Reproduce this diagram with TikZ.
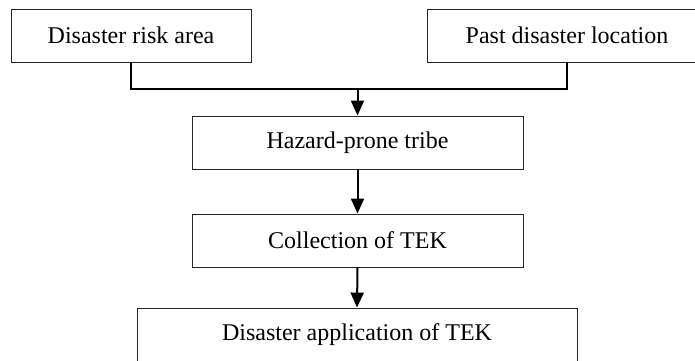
\documentclass[tikz,border=0pt]{standalone}
\usepackage{fontspec}
\setmainfont{Liberation Serif}
\usetikzlibrary{arrows.meta}
\tikzset{
    box/.style={draw=black!85, line width=.9pt, minimum height=53pt, inner sep=0pt,
                font=\fontsize{24}{28}\selectfont},
    link/.style={line width=2pt, line join=miter},
    tip/.style={link, -{Triangle[length=15pt,width=13pt]}}
}
\begin{document}
\begin{tikzpicture}[x=1pt,y=-1pt]
    \useasboundingbox (0,0) rectangle (695,360);
    \node[box, minimum width=240pt] (risk) at (131,35.5) {Disaster risk area};
    \node[box, minimum width=280pt] (past) at (567,35.5) {Past disaster location};
    \node[box, minimum width=331pt] (tribe) at (357.5,142.5) {Hazard-prone tribe};
    \node[box, minimum width=331pt] (tek) at (357.5,240.5) {Collection of TEK};
    \node[box, minimum width=440pt] (apply) at (357,334.5) {Disaster application of TEK};
    \coordinate (join) at (357.5,89);
    \draw[link] (risk.south) |- (join) -| (past.south);
    \draw[tip] (join) -- (tribe.north);
    \draw[tip] (tribe.south) -- (tek.north);
    \draw[tip] (tek.south) -- (apply.north);
\end{tikzpicture}
\end{document}
